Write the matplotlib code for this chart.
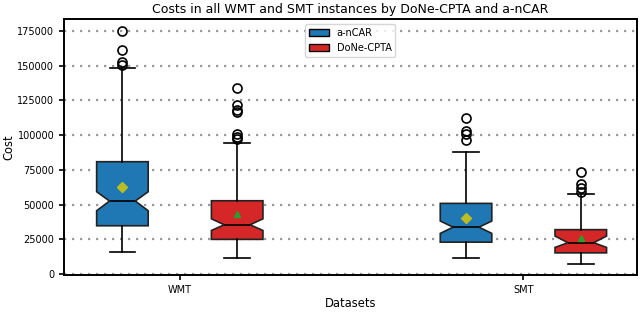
import matplotlib
matplotlib.use("Agg")
import matplotlib.pyplot as plt
from matplotlib.patches import Patch


datasets = ["WMT", "SMT"]
methods = ["a-nCAR", "DoNe-CPTA"]

# box statistics, one entry per dataset (WMT, SMT)
ancar_whislo = [15800, 11300]
ancar_q1 = [34800, 23000]
ancar_cilo = [45600, 29300]
ancar_med = [52600, 33800]
ancar_cihi = [59300, 38200]
ancar_q3 = [80900, 50900]
ancar_whishi = [148000, 88100]
ancar_mean = [62700, 40100]
ancar_fliers = [
    [175000, 161500, 152900, 150600],
    [112100, 103200, 100600, 96500],
]

done_whislo = [11300, 7200]
done_q1 = [25000, 15300]
done_cilo = [31400, 19200]
done_med = [35500, 22600]
done_cihi = [39800, 27400]
done_q3 = [52800, 32000]
done_whishi = [94600, 57400]
done_mean = [43200, 26100]
done_fliers = [
    [134000, 121500, 117900, 116700, 101000, 98900, 97000],
    [73200, 64800, 62200, 58800],
]

y_ticks = [0, 25000, 50000, 75000, 100000, 125000, 150000, 175000]


def make_stats(whislo, q1, cilo, med, cihi, q3, whishi, mean, fliers):
    out = []
    for i in range(len(med)):
        out.append({
            "whislo": whislo[i], "q1": q1[i], "cilo": cilo[i], "med": med[i],
            "cihi": cihi[i], "q3": q3[i], "whishi": whishi[i],
            "mean": mean[i], "fliers": fliers[i],
        })
    return out


ancar_stats = make_stats(ancar_whislo, ancar_q1, ancar_cilo, ancar_med,
                         ancar_cihi, ancar_q3, ancar_whishi, ancar_mean, ancar_fliers)
done_stats = make_stats(done_whislo, done_q1, done_cilo, done_med,
                        done_cihi, done_q3, done_whishi, done_mean, done_fliers)

fig = plt.figure(figsize=(6.4, 3.12), dpi=100)
ax = fig.add_axes([0.1, 0.117, 0.895, 0.822])

group_pos = [1, 2]
off = 0.167
w = 0.15

common = dict(shownotches=True, showmeans=True, patch_artist=True, widths=w,
              medianprops=dict(color="black", linewidth=1.2),
              whiskerprops=dict(color="black", linewidth=1.2),
              capprops=dict(color="black", linewidth=1.2),
              flierprops=dict(marker="o", markerfacecolor="none",
                              markeredgecolor="black", markersize=6.5,
                              markeredgewidth=1.2),
              manage_ticks=False)

ax.bxp(ancar_stats, positions=[p - off for p in group_pos],
       boxprops=dict(facecolor="#1f77b4", edgecolor="#222222", linewidth=1.2),
       meanprops=dict(marker="D", markerfacecolor="#bcbd22",
                      markeredgecolor="#bcbd22", markersize=5),
       **common)
ax.bxp(done_stats, positions=[p + off for p in group_pos],
       boxprops=dict(facecolor="#d62728", edgecolor="#222222", linewidth=1.2),
       meanprops=dict(marker="^", markerfacecolor="#2ca02c",
                      markeredgecolor="#2ca02c", markersize=5),
       **common)

ax.set_xlim(0.663, 2.33)
ax.set_ylim(-1000, 183600)
ax.set_xticks(group_pos)
ax.set_xticklabels(datasets)
ax.set_yticks(y_ticks)
ax.tick_params(labelsize=7, width=1.2)
ax.yaxis.grid(True, linestyle=(0, (1, 2.6)), linewidth=1.6, color="#999999")
ax.set_axisbelow(True)
for s in ax.spines.values():
    s.set_linewidth(1.4)

ax.set_title("Costs in all WMT and SMT instances by DoNe-CPTA and a-nCAR", fontsize=9, pad=4)
ax.set_xlabel("Datasets", fontsize=8.3, labelpad=1)
ax.set_ylabel("Cost", fontsize=8.3, labelpad=1.5)

handles = [Patch(facecolor="#1f77b4", edgecolor="black", label=methods[0]),
           Patch(facecolor="#d62728", edgecolor="black", label=methods[1])]
ax.legend(handles=handles, loc="upper center", fontsize=7)

fig.savefig("out.png", dpi=100)
